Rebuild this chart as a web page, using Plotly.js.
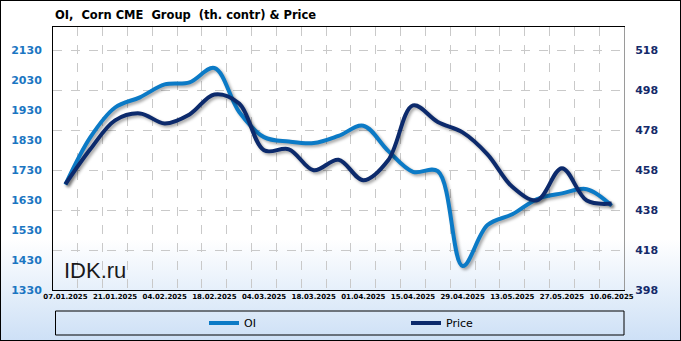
<!DOCTYPE html>
<html>
<head>
<meta charset="utf-8">
<script src="https://cdn.plot.ly/plotly-3.0.1.min.js"></script>
<style>
  html, body { margin: 0; padding: 0; }
  #wrap { position: relative; width: 681px; height: 341px;
    background: linear-gradient(to bottom, #ffffff 0%, #ffffff 70%, #cde0f6 100%); }
  #chart { position: absolute; left: 0; top: 0; width: 681px; height: 341px; }
  #frame { position: absolute; left: 0; top: 0; width: 681px; height: 341px;
    box-sizing: border-box; border: 1px solid #000; pointer-events: none; }
  .scatterlayer .trace path.js-line { filter: drop-shadow(2px 2px 1.5px rgba(0,0,0,0.35)); }
</style>
</head>
<body>
<div id="wrap"><div id="chart"></div><div id="frame"></div></div>
<script>
const dates = ['07.01.2025','14.01.2025','21.01.2025','28.01.2025','04.02.2025','11.02.2025',
  '18.02.2025','25.02.2025','04.03.2025','11.03.2025','18.03.2025','25.03.2025','01.04.2025',
  '08.04.2025','15.04.2025','22.04.2025','29.04.2025','06.05.2025','13.05.2025','20.05.2025',
  '27.05.2025','03.06.2025','10.06.2025'];
const oi = [1682, 1840, 1940, 1974, 2017, 2024, 2072, 1925, 1841, 1826, 1821, 1845, 1879,
  1795, 1725, 1727, 1410, 1547, 1583, 1634, 1653, 1667, 1612];
const price = [451, 468.5, 483, 486.5, 481.5, 486, 496, 491.5, 468, 468.5, 458, 463.3, 453,
  463, 490.5, 482.2, 477, 466, 449.7, 443, 459, 442.8, 441.3];
const oiTicks = [1330, 1430, 1530, 1630, 1730, 1830, 1930, 2030, 2130];
const priceTicks = [398, 418, 438, 458, 478, 498, 518];
const labelDates = dates.filter((d, i) => i % 2 === 0);

function iso(d) { const p = d.split('.'); return p[2] + '-' + p[1] + '-' + p[0]; }
const xs = dates.map(iso);
const DAY = 86400000;
const t0 = new Date(xs[0]).getTime();
const tN = new Date(xs[xs.length - 1]).getTime();
const half = 3.5 * DAY;
function fmt(ms) { return new Date(ms).toISOString().replace('T', ' ').slice(0, 19); }

const traces = [
  { x: xs, y: oi, name: 'OI', type: 'scatter', mode: 'lines', yaxis: 'y',
    line: { color: '#0b7ac6', width: 4, shape: 'spline', smoothing: 1 }, legend: 'legend' },
  { x: xs, y: price, name: 'Price', type: 'scatter', mode: 'lines', yaxis: 'y2',
    line: { color: '#0c2a6c', width: 4, shape: 'spline', smoothing: 1 }, legend: 'legend2' }
];

const legendFont = { family: 'DejaVu Sans', size: 11, color: '#000' };
const layout = {
  width: 681, height: 341,
  margin: { l: 53, r: 57, t: 27, b: 51, autoexpand: false },
  paper_bgcolor: 'rgba(0,0,0,0)', plot_bgcolor: 'rgba(0,0,0,0)',
  title: { text: 'OI,\u00a0 Corn CME\u00a0 Group\u00a0 (th. contr) & Price',
    font: { family: 'DejaVu Sans', size: 11.5, color: '#000', weight: 'bold' },
    x: 55 / 681, xanchor: 'left', xref: 'container', y: 1 - 15 / 341, yanchor: 'middle',
    yref: 'container' },
  xaxis: {
    type: 'date', range: [fmt(t0 - half), fmt(tN + half)],
    tickmode: 'array', tickvals: labelDates.map(iso), ticktext: labelDates,
    showgrid: false, ticks: '', showline: true, linecolor: '#000', linewidth: 1, mirror: true,
    tickfont: { family: 'DejaVu Sans', size: 7, color: '#000', weight: 'bold' },
    minor: { tick0: fmt(t0 - half), dtick: 7 * DAY, showgrid: true, gridcolor: '#c9c9c9',
      griddash: 'dash', gridwidth: 1, ticks: '' },
    zeroline: false, fixedrange: true
  },
  yaxis: {
    range: [1330, 2209], tickmode: 'array', tickvals: oiTicks, ticktext: oiTicks.map(String),
    showgrid: false, zeroline: false, showline: true, linecolor: '#000', linewidth: 1,
    ticks: '', ticklabelstandoff: 8,
    tickfont: { family: 'DejaVu Sans', size: 11, color: '#1b76c2', weight: 'bold' }
  },
  yaxis2: {
    overlaying: 'y', side: 'right',
    range: [398, 529.8], tickmode: 'array', tickvals: priceTicks, ticktext: priceTicks.map(String),
    showgrid: true, gridcolor: '#c9c9c9', griddash: 'dash', gridwidth: 1,
    zeroline: false, showline: true, linecolor: '#9a9a9a', linewidth: 1,
    ticks: '', ticklabelstandoff: 8,
    tickfont: { family: 'DejaVu Sans', size: 11, color: '#142a6a', weight: 'bold' }
  },
  showlegend: true,
  legend: { orientation: 'h', x: (204 - 53) / 571, xanchor: 'left', y: (290 - 323) / 263,
    yanchor: 'middle', bgcolor: 'rgba(0,0,0,0)', borderwidth: 0, font: legendFont },
  legend2: { orientation: 'h', x: (406 - 53) / 571, xanchor: 'left', y: (290 - 323) / 263,
    yanchor: 'middle', bgcolor: 'rgba(0,0,0,0)', borderwidth: 0, font: legendFont },
  shapes: [
    { type: 'rect', xref: 'paper', yref: 'paper',
      x0: (55.5 - 53) / 571, x1: (624 - 53) / 571,
      y0: (290 - 335) / 263, y1: (290 - 311) / 263,
      line: { color: '#000', width: 1 }, fillcolor: 'rgba(0,0,0,0)' }
  ],
  annotations: [
    { text: 'IDK.ru', xref: 'paper', yref: 'paper', x: (62 - 53) / 571, xanchor: 'left',
      y: (290 - 270) / 263, yanchor: 'middle', showarrow: false,
      font: { family: 'Liberation Sans', size: 22, color: '#1a1a1a' } }
  ]
};

Plotly.newPlot('chart', traces, layout, { staticPlot: true, displayModeBar: false });
</script>
</body>
</html>
